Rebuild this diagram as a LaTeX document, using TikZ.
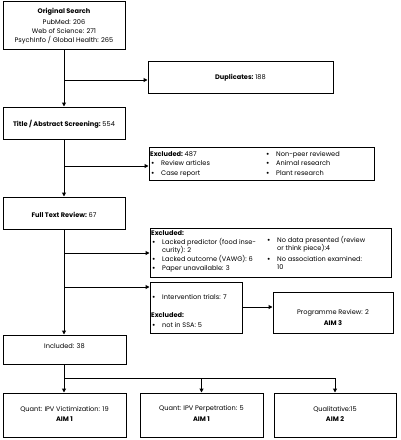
\documentclass[tikz,border=0pt]{standalone}
\usepackage{fontspec}
\setmainfont{Poppins}
\usetikzlibrary{arrows.meta}
\newcommand{\bul}{\makebox[10pt][l]{\bfseries •}}
\begin{document}
\begin{tikzpicture}[x=1pt,y=-1pt,
  box/.style={draw=black,line width=1pt,inner sep=0pt,anchor=center},
  txt/.style={inner sep=0pt,font=\fontsize{6.6}{7.6}\selectfont,text=black},
  lt/.style={txt,anchor=base west},
  conn/.style={line width=1pt,-{Triangle[length=3.8pt,width=3.8pt]}},
  line/.style={line width=1pt}]
\useasboundingbox (0,0) rectangle (400,440);
% boxes
\node[box,minimum width=122pt,minimum height=48pt] (orig) at (64,25) {};
\node[box,minimum width=185pt,minimum height=32pt] (dup) at (240.5,77) {};
\node[box,minimum width=122pt,minimum height=32pt] (title) at (64,123) {};
\node[box,minimum width=225pt,minimum height=33pt] (ex1) at (261.5,163.5) {};
\node[box,minimum width=122pt,minimum height=32pt] (full) at (64,213) {};
\node[box,minimum width=241pt,minimum height=49pt] (ex2) at (270.5,252.5) {};
\node[box,minimum width=92pt,minimum height=51pt] (int) at (196,307.5) {};
\node[box,minimum width=120pt,minimum height=41pt] (prog) at (333,312.5) {};
\node[box,minimum width=123pt,minimum height=29pt] (inc) at (64.5,349.5) {};
\node[box,minimum width=123pt,minimum height=44pt] (q1) at (64.5,415) {};
\node[box,minimum width=123pt,minimum height=44pt] (q2) at (201.5,415) {};
\node[box,minimum width=122pt,minimum height=44pt] (q3) at (335,415) {};
% texts
\node[txt] (t1) at (64,12) {\bfseries Original Search};
\node[txt] (t2) at (64,22) {PubMed: 206};
\node[txt] (t3) at (64,31) {Web of Science: 271};
\node[txt] (t4) at (64,40) {PsychInfo / Global Health: 265};
\node[txt] (tdup) at (240.5,78) {\bfseries Duplicates:\mdseries\ 188};
\node[txt] (ttitle) at (64,124) {\bfseries Title / Abstract Screening:\mdseries\ 554};
\node[lt] (e1a) at (150,156) {\bfseries Excluded:\mdseries\ 487};
\node[lt] (e1b) at (151,165.5) {\bul Review articles};
\node[lt] (e1c) at (151,175) {\bul Case report};
\node[lt] (e1d) at (266,156) {\bul Non-peer reviewed};
\node[lt] (e1e) at (266,165.5) {\bul Animal research};
\node[lt] (e1f) at (266,175) {\bul Plant research};
\node[txt] (tfull) at (64,215) {\bfseries Full Text Review:\mdseries\ 67};
\node[lt] (e2a) at (151,235) {\bfseries Excluded:};
\node[lt] (e2b) at (152,244) {\bul Lacked predictor (food inse-};
\node[lt] (e2c) at (162,252.5) {curity): 2};
\node[lt] (e2d) at (152,261.5) {\bul Lacked outcome (VAWG): 6};
\node[lt] (e2e) at (152,270.5) {\bul Paper unavailable: 3};
\node[lt] (e2f) at (267,242) {\bul No data presented (review};
\node[lt] (e2g) at (277,250.5) {or think piece):4};
\node[lt] (e2h) at (267,261) {\bul No association examined:};
\node[lt] (e2i) at (277,269.5) {10};
\node[lt] (i1) at (152,299) {\bul Intervention trials: 7};
\node[lt] (i2) at (151,317.5) {\bfseries Excluded:};
\node[lt] (i3) at (152,327) {\bul not in SSA: 5};
\node[txt] (p1) at (333,313) {Programme Review: 2};
\node[txt] (p2) at (333,323) {\bfseries AIM 3};
\node[txt] (tinc) at (64.5,346) {Included: 38};
\node[txt] (qa1) at (64.5,409) {Quant: IPV Victimization: 19};
\node[txt] (qa2) at (64.5,419) {\bfseries AIM 1};
\node[txt] (qb1) at (201.5,409) {Quant: IPV Perpetration: 5};
\node[txt] (qb2) at (201.5,419) {\bfseries AIM 1};
\node[txt] (qc1) at (335,409) {Qualitative:15};
\node[txt] (qc2) at (335,419) {\bfseries AIM 2};
% connectors
\coordinate (b1) at (64,80);
\coordinate (b2) at (64,166);
\coordinate (b3) at (64,253);
\coordinate (b4) at (64,287);
\coordinate (b5) at (64,378);
\draw[conn] (orig.south) -- (title.north);
\draw[conn] (b1) -- (b1 -| dup.west);
\draw[conn] (title.south) -- (full.north);
\draw[conn] (b2) -- (b2 -| ex1.west);
\draw[conn] (full.south) -- (full.south |- inc.north);
\draw[conn] (b3) -- (b3 -| ex2.west);
\draw[conn] (b4) -- (b4 -| int.west);
\coordinate (c1) at (242,307);
\draw[conn] (int.east |- c1) -- (c1 -| prog.west);
\draw[line] (inc.south -| b5) -- (b5) -- (q3.north |- b5);
\draw[conn] (b5) -- (b5 |- q1.north);
\draw[conn] (q2.north |- b5) -- (q2.north);
\draw[conn] (q3.north |- b5) -- (q3.north);
\end{tikzpicture}
\end{document}
